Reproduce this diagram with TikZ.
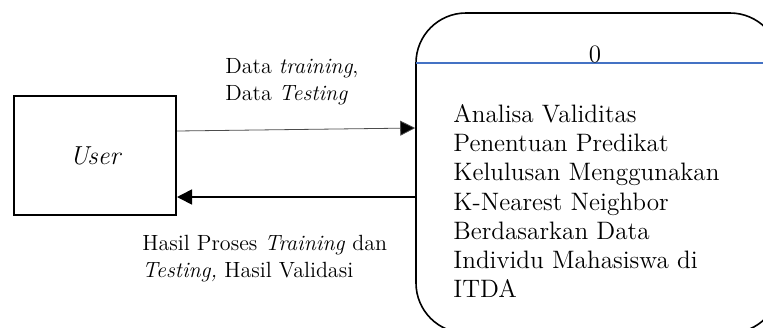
\documentclass[tikz,border=0pt]{standalone}
\usepackage{tikz}
\usetikzlibrary{arrows.meta}

\definecolor{lineblue}{RGB}{68,114,196}

\begin{document}
\begin{tikzpicture}[
    x=0.5pt, y=-0.5pt,
    entity/.style={rectangle, draw, line width=1pt, minimum width=81pt, minimum height=59.5pt, font=\fontsize{13}{15}\selectfont\itshape},
    process/.style={rectangle, draw, line width=0.8pt, rounded corners=25pt, minimum width=182pt, minimum height=160pt},
    divider/.style={draw=lineblue, line width=0.6pt},
    flow/.style={draw, line width=0.8pt, -{Triangle[length=7.5pt, width=7.5pt]}},
    thinflow/.style={draw=black!70, line width=0.4pt, -{Triangle[length=7.5pt, width=7.5pt, fill=black]}},
    label/.style={anchor=west, align=left, inner sep=0pt, font=\fontsize{11}{13.5}\selectfont}
]

% Define frame
\path[use as bounding box, clip] (0,0) rectangle (763,327);

% Define nodes
\node[entity] (user) at (95,155.5) {User};
\node[process] (proc) at (598,173) {};
\path[divider] (416,63) -- (790,63);
\node[inner sep=0pt, font=\fontsize{12.5}{13}\selectfont] (num) at (595,54) {0};
\node[anchor=north west, align=left, inner sep=0pt, font=\fontsize{12.6}{14.6}\selectfont] (desc) at (453,104)
    {Analisa Validitas\\ Penentuan Predikat\\ Kelulusan Menggunakan\\ K-Nearest Neighbor\\ Berdasarkan Data\\ Individu Mahasiswa di\\ ITDA};

% Define flows with labels
\path[thinflow] ([yshift=12.25pt]user.east) -- ([yshift=22.5pt]proc.west);
\path[flow] ([yshift=-12pt]proc.west) -- ([yshift=-20.75pt]user.east);
\node[label] (datain) at (225,81.5) {Data \textit{training},\\ Data \textit{Testing}};
\node[label] (dataout) at (142,258.5) {Hasil Proses \textit{Training} dan\\ \textit{Testing,} Hasil Validasi};

\end{tikzpicture}
\end{document}
